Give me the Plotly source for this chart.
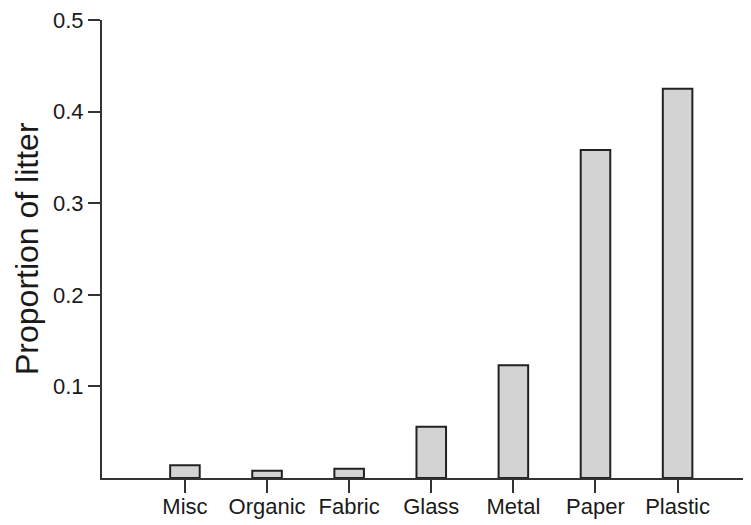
import plotly.graph_objects as go

categories = ["Misc", "Organic", "Fabric", "Glass", "Metal", "Paper", "Plastic"]
proportions = [0.014, 0.008, 0.010, 0.056, 0.123, 0.358, 0.425]
y_ticks = [0.1, 0.2, 0.3, 0.4, 0.5]
y_tick_labels = ["0.1", "0.2", "0.3", "0.4", "0.5"]

positions = list(range(len(categories)))

fig = go.Figure()
fig.add_trace(go.Bar(
    x=positions,
    y=proportions,
    width=0.36,
    marker=dict(color="#d3d3d3", line=dict(color="#222222", width=2)),
    hoverinfo="skip",
))

fig.update_layout(
    width=751,
    height=525,
    margin=dict(l=94, r=8, t=12, b=55),
    paper_bgcolor="white",
    plot_bgcolor="white",
    showlegend=False,
    font=dict(family="Liberation Sans, Arial, Helvetica, sans-serif", size=22, color="#1a1a1a"),
    xaxis=dict(
        range=[-1.01, 6.894],
        tickmode="array",
        tickvals=positions,
        ticktext=categories,
        showline=True,
        linecolor="#333333",
        linewidth=2,
        ticks="outside",
        ticklen=13,
        tickwidth=2,
        tickcolor="#333333",
        showgrid=False,
        zeroline=False,
        automargin=False,
        ticklabelstandoff=-5,
        tickfont=dict(size=22, color="#1a1a1a"),
    ),
    yaxis=dict(
        range=[0, 0.5],
        tickmode="array",
        tickvals=y_ticks,
        ticktext=y_tick_labels,
        showline=True,
        linecolor="#333333",
        linewidth=2,
        ticks="outside",
        ticklen=12,
        tickwidth=2,
        tickcolor="#333333",
        showgrid=False,
        zeroline=False,
        automargin=False,
        ticklabeloverflow="allow",
        tickfont=dict(size=22, color="#1a1a1a"),
    ),
    annotations=[dict(
        text="Proportion of litter",
        xref="paper", yref="paper",
        x=(27 - 102) / 649, y=0.5,
        xanchor="center", yanchor="middle",
        textangle=-90,
        showarrow=False,
        font=dict(size=32, color="#1a1a1a"),
    )],
)

fig.write_html("out.html")
